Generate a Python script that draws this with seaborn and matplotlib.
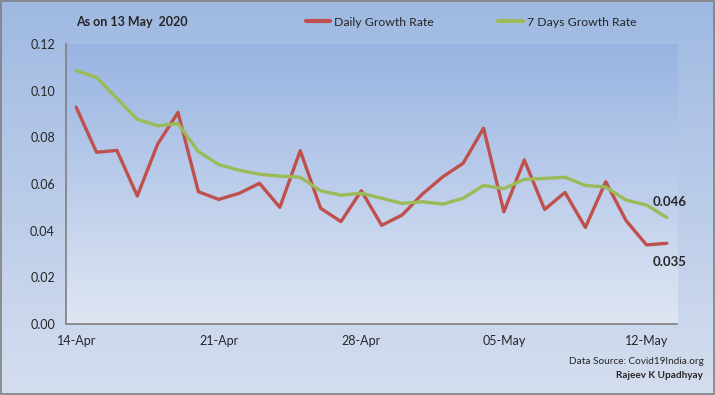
import numpy as np
import pandas as pd
import seaborn as sns
import matplotlib.pyplot as plt
import matplotlib.colors as mcolors

# data (14-Apr .. 13-May 2020)
dates = pd.date_range("2020-04-14", "2020-05-13").strftime("%d-%b").tolist()
daily = [0.0929, 0.0736, 0.0744, 0.0549, 0.0771, 0.0907, 0.0567, 0.0534, 0.0560, 0.0603,
         0.0500, 0.0743, 0.0496, 0.0439, 0.0571, 0.0423, 0.0467, 0.0557, 0.0631, 0.0689,
         0.0839, 0.0481, 0.0703, 0.0491, 0.0564, 0.0414, 0.0610, 0.0443, 0.0339, 0.0346]
weekly = [0.1086, 0.1057, 0.0967, 0.0877, 0.0850, 0.0859, 0.0739, 0.0683, 0.0659, 0.0642,
          0.0634, 0.0629, 0.0571, 0.0552, 0.0560, 0.0539, 0.0517, 0.0524, 0.0514, 0.0539,
          0.0594, 0.0580, 0.0620, 0.0624, 0.0629, 0.0594, 0.0587, 0.0531, 0.0510, 0.0456]
series_names = ["Daily Growth Rate", "7 Days Growth Rate"]
tick_labels = ["14-Apr", "21-Apr", "28-Apr", "05-May", "12-May"]

df = pd.DataFrame({
    "idx": list(range(len(dates))) * 2,
    "rate": daily + weekly,
    "series": [series_names[0]] * len(daily) + [series_names[1]] * len(weekly),
})

sns.set_style("white")
plt.rcParams["font.family"] = ["Lato", "DejaVu Sans"]

fig = plt.figure(figsize=(7.15, 3.95), dpi=100)

# figure background gradient
bg = fig.add_axes([0, 0, 1, 1], zorder=-10)
cmap_fig = mcolors.LinearSegmentedColormap.from_list("f", ["#d5deef", "#9fb9e2"])
bg.imshow(np.linspace(0, 1, 256).reshape(-1, 1), aspect="auto", cmap=cmap_fig,
          origin="lower", extent=[0, 1, 0, 1])
bg.set_axis_off()
fig.patches.append(plt.Rectangle((0.0007, 0.0013), 0.9986, 0.9974, transform=fig.transFigure,
                                 fill=False, edgecolor="#808080", lw=1.2))

ax = fig.add_axes([0.0923, 0.1797, 0.8546, 0.7089])
ax.patch.set_alpha(0)
ax.imshow(np.linspace(0, 1, 256).reshape(-1, 1), aspect="auto",
          cmap=mcolors.LinearSegmentedColormap.from_list("p", ["#dfe6f3", "#98b4e2"]),
          origin="lower", extent=[-0.5, 29.5, 0, 0.12], zorder=0)

sns.lineplot(data=df, x="idx", y="rate", hue="series", palette=["#c0504d", "#9bbb59"],
             linewidth=2.4, ax=ax, legend=False, zorder=3)

ax.set_xlim(-0.5, 29.5)
ax.set_ylim(0, 0.12)
ax.set_yticks(np.arange(0, 0.121, 0.02))
ax.set_yticklabels([f"{v:.2f}" for v in np.arange(0, 0.121, 0.02)], fontsize=9)
ax.set_xticks([-0.5, 6.5, 13.5, 20.5, 27.5])
ax.set_xticklabels([])
ax.set_xticks([0, 7, 14, 21, 28], minor=True)
ax.set_xticklabels(tick_labels, minor=True, fontsize=9)
ax.tick_params(axis="x", which="minor", length=0, pad=8)
ax.tick_params(axis="both", which="major", direction="out", length=4, color="#808080", width=1)
ax.tick_params(axis="y", pad=4)
ax.set_xlabel("")
ax.set_ylabel("")
for s in ["top", "right"]:
    ax.spines[s].set_visible(False)
for s in ["left", "bottom"]:
    ax.spines[s].set_color("#808080")
    ax.spines[s].set_linewidth(1.2)

ax.annotate(f"{weekly[-1]:.3f}", (29, weekly[-1]), xytext=(-10, 8.4), textcoords="offset points",
            fontsize=9.5, fontweight="bold", annotation_clip=False)
ax.annotate(f"{daily[-1]:.3f}", (29, daily[-1]), xytext=(-10, -16.5), textcoords="offset points",
            fontsize=9.5, fontweight="bold", annotation_clip=False)

# header: date and legend
fig.text(76 / 715, 1 - 22 / 395, "As on 13 May  2020", fontsize=9, fontweight="bold", va="center")
handles = [plt.Line2D([], [], color=c, lw=3) for c in ["#c0504d", "#9bbb59"]]
fig.legend(handles, series_names, loc="center", bbox_to_anchor=(471 / 715, 1 - 22 / 395),
           ncol=2, frameon=False, fontsize=8.8, handlelength=2.0, handletextpad=0.3,
           columnspacing=5.3, borderaxespad=0, borderpad=0)

fig.text(704 / 715, 1 - 362 / 395, "Data Source: Covid19India.org", fontsize=7.2,
         ha="right", va="center")
fig.text(703 / 715, 1 - 376 / 395, "Rajeev K Upadhyay", fontsize=7.2, fontweight="bold",
         ha="right", va="center")

fig.savefig("out.png", dpi=100)
